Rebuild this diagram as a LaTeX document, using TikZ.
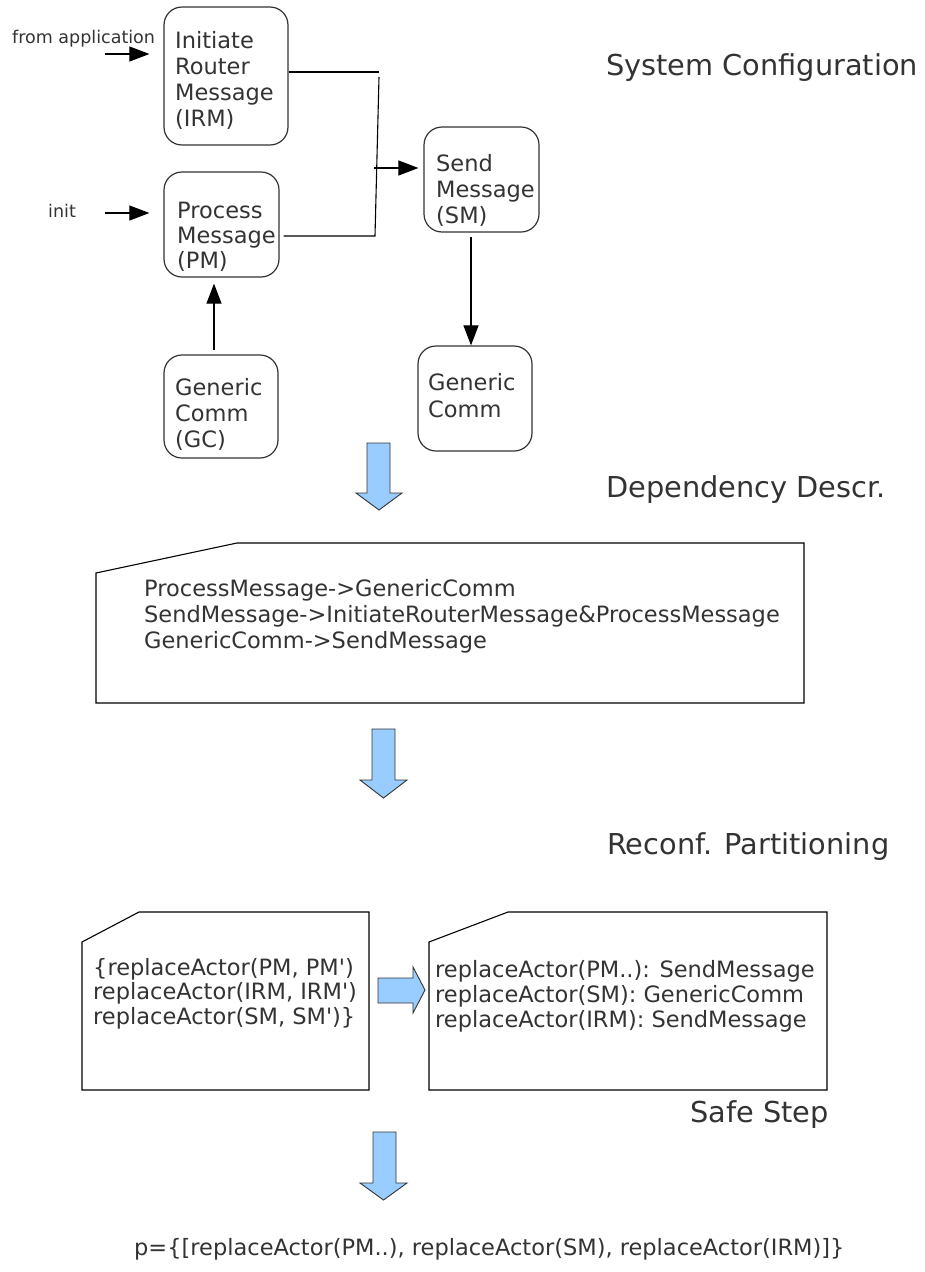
\documentclass[tikz,border=0pt]{standalone}
\usepackage{fontspec}
\setmainfont{DejaVu Sans}
\usetikzlibrary{arrows.meta}
\definecolor{txt}{HTML}{333333}
\definecolor{arrowblue}{HTML}{99CCFF}
\newcommand{\mlines}[1]{\begin{tabular}[t]{@{}l@{}}#1\end{tabular}}
\newcommand{\q}{\textquotesingle}
\begin{document}
\begin{tikzpicture}[x=1pt,y=-1pt,
 actor/.style={draw=black!80, line width=1.2pt, rounded corners=18pt, inner sep=0, minimum width=#1},
 lbl/.style={inner sep=0, anchor=base west, text=txt, font=\fontsize{22.5}{#1}\selectfont},
 lbl/.default=26,
 title/.style={inner sep=0, anchor=base west, text=txt, font=\fontsize{28.8}{34}\selectfont},
 small/.style={inner sep=0, anchor=base west, text=txt, font=\fontsize{17.5}{21}\selectfont},
 conn/.style={line width=1.1pt, draw=black},
 arr/.style={conn, -{Triangle[length=20pt,width=15pt]}},
 bluearrow/.style={fill=arrowblue, draw=black!80, line width=0.9pt, line join=miter},
 note/.style={draw=black, line width=1.1pt, line join=miter}]
\useasboundingbox (0,0) rectangle (925,1272);

% actor boxes
\node[actor=124pt, minimum height=138pt] (irm) at (226,76) {};
\node[actor=115pt, minimum height=105pt] (pm) at (221.5,224.5) {};
\node[actor=114pt, minimum height=103pt] (gc) at (221,406.5) {};
\node[actor=115pt, minimum height=105pt] (sm) at (481.5,179.5) {};
\node[actor=114pt, minimum height=105pt] (gc2) at (475,398.5) {};

% box texts
\node[lbl=26.3] (irmt) at (175,48) {\mlines{Initiate\\Router\\Message\\(IRM)}};
\node[lbl=25] (pmt) at (177,218) {\mlines{Process\\Message\\(PM)}};
\node[lbl=26] (smt) at (436,171) {\mlines{Send\\Message\\(SM)}};
\node[lbl=26] (gct) at (175,395) {\mlines{Generic\\Comm\\(GC)}};
\node[lbl=27] (gc2t) at (428,390) {\mlines{Generic\\Comm}};

% input labels
\node[small] (fromapp) at (12,43) {from application};
\node[small] (init) at (48,217) {init};
\coordinate (fa) at (105,54);
\coordinate (ia) at (105,213);
\draw[arr, shorten >=14pt] (fa) -- (fa -| irm.west);
\draw[arr, shorten >=14pt] (ia) -- (ia -| pm.west);

% merge to SM
\coordinate (j1) at (379,72);
\coordinate (j2) at (379,77);
\coordinate (j3) at (375,236);
\coordinate (j4) at (374,168);
\draw[conn] (irm.east |- j1) -- (j1);
\draw[conn] (j2) -- (j3) -- ([xshift=4pt]pm.east |- j3);
\draw[arr, shorten >=5pt] (j4) -- (sm.west |- j4);

% SM -> Generic Comm
\coordinate (v1) at (471,237);
\draw[arr] (v1) -- (v1 |- gc2.north);
% GC -> PM
\coordinate (c1) at (214,350);
\draw[arr, shorten >=6pt] (c1) -- (c1 |- pm.south);

% titles
\node[title] (t1) at (606,75) {System Configuration};
\node[title] (t2) at (606,497) {Dependency Descr.};
\node[title] (t3) at (607,854) {Reconf. Partitioning};
\node[title] (t4) at (690,1122) {Safe Step};

% blue arrows
\draw[bluearrow] (367,443) -- (390,443) -- (390,493) -- (402,493) -- (379,510) -- (356,493) -- (367,493) -- cycle;
\draw[bluearrow] (372,729) -- (395,729) -- (395,780) -- (407,780) -- (383.5,798) -- (360,780) -- (372,780) -- cycle;
\draw[bluearrow] (373,1132) -- (396,1132) -- (396,1183) -- (407,1183) -- (383.5,1200) -- (360,1183) -- (373,1183) -- cycle;
\draw[bluearrow] (378,978) -- (413,978) -- (413,967) -- (425,990) -- (413,1013) -- (413,1003) -- (378,1003) -- cycle;

% notes
\draw[note] (96,573) -- (237,543) -- (804,543) -- (804,703) -- (96,703) -- cycle;
\node[lbl=26] (dep) at (144,596) {\mlines{ProcessMessage->GenericComm\\SendMessage->InitiateRouterMessage\&ProcessMessage\\GenericComm->SendMessage}};

\draw[note] (82,942) -- (139,912) -- (369,912) -- (369,1090) -- (82,1090) -- cycle;
\node[lbl=24.5] (set) at (93,975) {\mlines{\{replaceActor(PM, PM\q)\\replaceActor(IRM, IRM\q)\\replaceActor(SM, SM\q)\}}};

\draw[note] (429,942) -- (508,912) -- (827,912) -- (827,1090) -- (429,1090) -- cycle;
\node[lbl=25] (part) at (435,977) {\mlines{replaceActor(PM..): SendMessage\\replaceActor(SM): GenericComm\\replaceActor(IRM): SendMessage}};

\node[lbl] (result) at (134,1255) {p=\{[replaceActor(PM..), replaceActor(SM), replaceActor(IRM)]\}};
\end{tikzpicture}
\end{document}
